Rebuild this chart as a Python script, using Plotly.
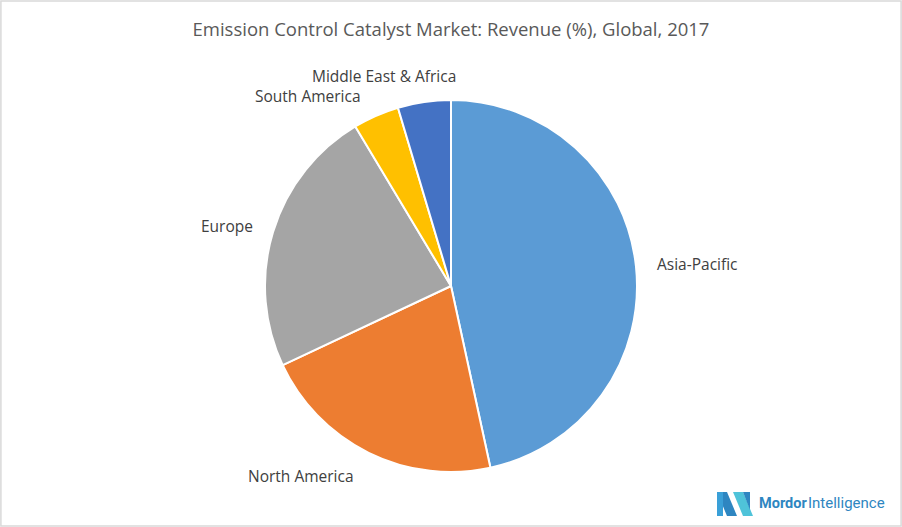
import plotly.graph_objects as go

regions = ["Asia-Pacific", "North America", "Europe", "South America", "Middle East & Africa"]
shares = [46.6, 21.4, 23.4, 4.0, 4.6]
colors = ["#5B9BD5", "#ED7D31", "#A5A5A5", "#FFC000", "#4472C4"]
# label anchor positions (pixels from top-left), layout only
label_pos = [(697, 264), (301, 476), (227, 226), (308, 96), (384, 76)]

W, H = 902, 527
cx, cy, r = 451, 286, 186

fig = go.Figure(go.Pie(
    labels=regions, values=shares, sort=False, direction="clockwise", rotation=0,
    marker=dict(colors=colors, line=dict(color="white", width=2)),
    textinfo="none",
    domain=dict(x=[(cx - r) / W, (cx + r) / W], y=[(H - cy - r) / H, (H - cy + r) / H]),
    hoverinfo="label+percent", showlegend=False,
))

annotations = [
    dict(text=lab, xref="paper", yref="paper", x=px / W, y=1 - py / H,
         xanchor="center", yanchor="middle", showarrow=False,
         font=dict(family="Open Sans", size=15.5, color="#404040"))
    for lab, (px, py) in zip(regions, label_pos)
]
annotations += [
    dict(text="<b>Mordor</b>", xref="paper", yref="paper", x=757 / W, y=1 - 503 / H,
         xanchor="left", yanchor="middle", showarrow=False,
         font=dict(family="Roboto", size=14.5, color="#2E86C1")),
    dict(text="Intelligence", xref="paper", yref="paper", x=887 / W, y=1 - 503 / H,
         xanchor="right", yanchor="middle", showarrow=False,
         font=dict(family="Roboto", size=15, color="#2E86C1")),
]

fig.update_layout(
    width=W, height=H, margin=dict(l=0, r=0, t=0, b=0),
    paper_bgcolor="white",
    title=dict(text="Emission Control Catalyst Market: Revenue (%), Global, 2017",
               x=0.5, xanchor="center", y=1 - 30 / H, yanchor="middle",
               font=dict(family="Open Sans", size=18.5, color="#595959")),
    shapes=[
        dict(type="rect", xref="paper", yref="paper", x0=0.001, y0=0.002, x1=0.999, y1=0.998,
             line=dict(color="#D9D9D9", width=1.5)),
        # logo mark
        dict(type="path", xref="paper", yref="paper",
             path=f"M {717/W} {1-492/H} L {727/W} {1-492/H} L {737/W} {1-516/H} L {727/W} {1-516/H} Z",
             fillcolor="#2E86C1", line=dict(width=0)),
        dict(type="path", xref="paper", yref="paper",
             path=f"M {717/W} {1-492/H} L {723/W} {1-492/H} L {723/W} {1-516/H} L {717/W} {1-516/H} Z",
             fillcolor="#3AA0D8", line=dict(width=0)),
        dict(type="path", xref="paper", yref="paper",
             path=f"M {733/W} {1-492/H} L {743/W} {1-492/H} L {753/W} {1-516/H} L {743/W} {1-516/H} Z",
             fillcolor="#4FC3D9", line=dict(width=0)),
        dict(type="path", xref="paper", yref="paper",
             path=f"M {743/W} {1-492/H} L {750/W} {1-492/H} L {750/W} {1-510/H} Z",
             fillcolor="#2E86C1", line=dict(width=0)),
    ],
    annotations=annotations,
)

fig.write_html("out.html")
